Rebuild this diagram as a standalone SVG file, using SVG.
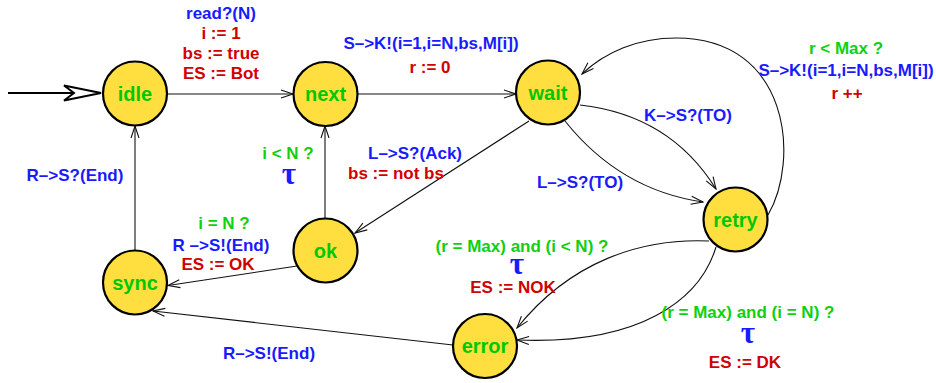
<svg xmlns="http://www.w3.org/2000/svg" width="936" height="383" viewBox="0 0 936 383">
<defs>
<style>
.node circle{fill:#ffdf40;stroke:#000;stroke-width:2.2}
.node text{font-family:"Liberation Sans",Arial,sans-serif;font-weight:bold;font-size:20px;fill:#00c800;text-anchor:middle}
.edge{fill:none;stroke:#111;stroke-width:1.1;marker-end:url(#arr)}
.lbl{font-family:"Liberation Sans",Arial,sans-serif;font-weight:bold;font-size:17px;text-anchor:middle}
.b{fill:#1a1aff}
.r{fill:#d00000}
.g{fill:#10d010}
.tau{font-family:"Liberation Serif","DejaVu Serif",serif;font-weight:bold;font-size:31px;fill:#1a1aff;text-anchor:middle}
</style>
<marker id="arr" markerUnits="userSpaceOnUse" markerWidth="14" markerHeight="10" refX="13" refY="5" orient="auto">
<path d="M1,1 L13,5 L1,9" fill="none" stroke="#111" stroke-width="1.1"/>
</marker>
</defs>
<g id="connectors">
<line x1="8" y1="93" x2="74" y2="93" stroke="#000" stroke-width="2.2"/>
<polygon points="64,85.5 101,93 64,100.5 74,93" fill="#fff" stroke="#000" stroke-width="2" stroke-linejoin="miter"/>
<path class="edge" d="M168,94 L293,94"/>
<path class="edge" d="M358,94 L516,94"/>
<path class="edge" d="M529,121 L355,233"/>
<path class="edge" d="M325,218 L325,126"/>
<path class="edge" d="M135,251 L135,126"/>
<path class="edge" d="M297,266 L168,285.5"/>
<path class="edge" d="M453,345 L153,311"/>
<path class="edge" d="M580,105 Q670,115 716,189"/>
<path class="edge" d="M565,121 Q620,190 703,202"/>
<path class="edge" d="M768,215 C800,160 790,38 676,38 C638,38 605,52 582,74"/>
<path class="edge" d="M709,241 C640,238 570,262 517,328"/>
<path class="edge" d="M716,247 C700,300 640,345 517,340"/>
</g>
<g id="idle" class="node"><circle cx="135" cy="93.5" r="32"/><text x="135" y="100.5">idle</text></g>
<g id="next" class="node"><circle cx="325.5" cy="94" r="32"/><text x="325.5" y="101">next</text></g>
<g id="wait" class="node"><circle cx="548" cy="92.5" r="32"/><text x="548" y="100">wait</text></g>
<g id="ok" class="node"><circle cx="325.5" cy="250.5" r="32"/><text x="325.5" y="257.5">ok</text></g>
<g id="sync" class="node"><circle cx="135" cy="282.5" r="32"/><text x="135" y="289.5">sync</text></g>
<g id="retry" class="node"><circle cx="735.5" cy="219.5" r="32"/><text x="735.5" y="226.5">retry</text></g>
<g id="error" class="node"><circle cx="485" cy="346" r="32"/><text x="485" y="353">error</text></g>
<g id="labels">
<text class="lbl b" x="221" y="19">read?(N)</text>
<text class="lbl r" x="221" y="39">i := 1</text>
<text class="lbl r" x="221" y="59">bs := true</text>
<text class="lbl r" x="221" y="79">ES := Bot</text>
<text class="lbl b" x="431" y="49">S–&gt;K!(i=1,i=N,bs,M[i])</text>
<text class="lbl r" x="430" y="73">r := 0</text>
<text class="lbl g" x="288" y="159">i &lt; N ?</text>
<text class="tau" x="289" y="184">τ</text>
<text class="lbl b" x="415" y="159">L–&gt;S?(Ack)</text>
<text class="lbl r" x="396" y="179">bs := not bs</text>
<text class="lbl b" x="75" y="181">R–&gt;S?(End)</text>
<text class="lbl g" x="224" y="229">i = N ?</text>
<text class="lbl b" x="221" y="251">R –&gt;S!(End)</text>
<text class="lbl r" x="218" y="270">ES := OK</text>
<text class="lbl b" x="269" y="359">R–&gt;S!(End)</text>
<text class="lbl g" x="846" y="54">r &lt; Max ?</text>
<text class="lbl b" x="846" y="76">S–&gt;K!(i=1,i=N,bs,M[i])</text>
<text class="lbl r" x="847" y="99">r ++</text>
<text class="lbl b" x="688" y="121">K–&gt;S?(TO)</text>
<text class="lbl b" x="580" y="188">L–&gt;S?(TO)</text>
<text class="lbl g" x="522" y="252">(r = Max) and (i &lt; N) ?</text>
<text class="tau" x="517" y="274">τ</text>
<text class="lbl r" x="513" y="293">ES := NOK</text>
<text class="lbl g" x="748" y="318">(r = Max) and (i = N) ?</text>
<text class="tau" x="748" y="343">τ</text>
<text class="lbl r" x="745" y="368">ES := DK</text>
</g>
</svg>
